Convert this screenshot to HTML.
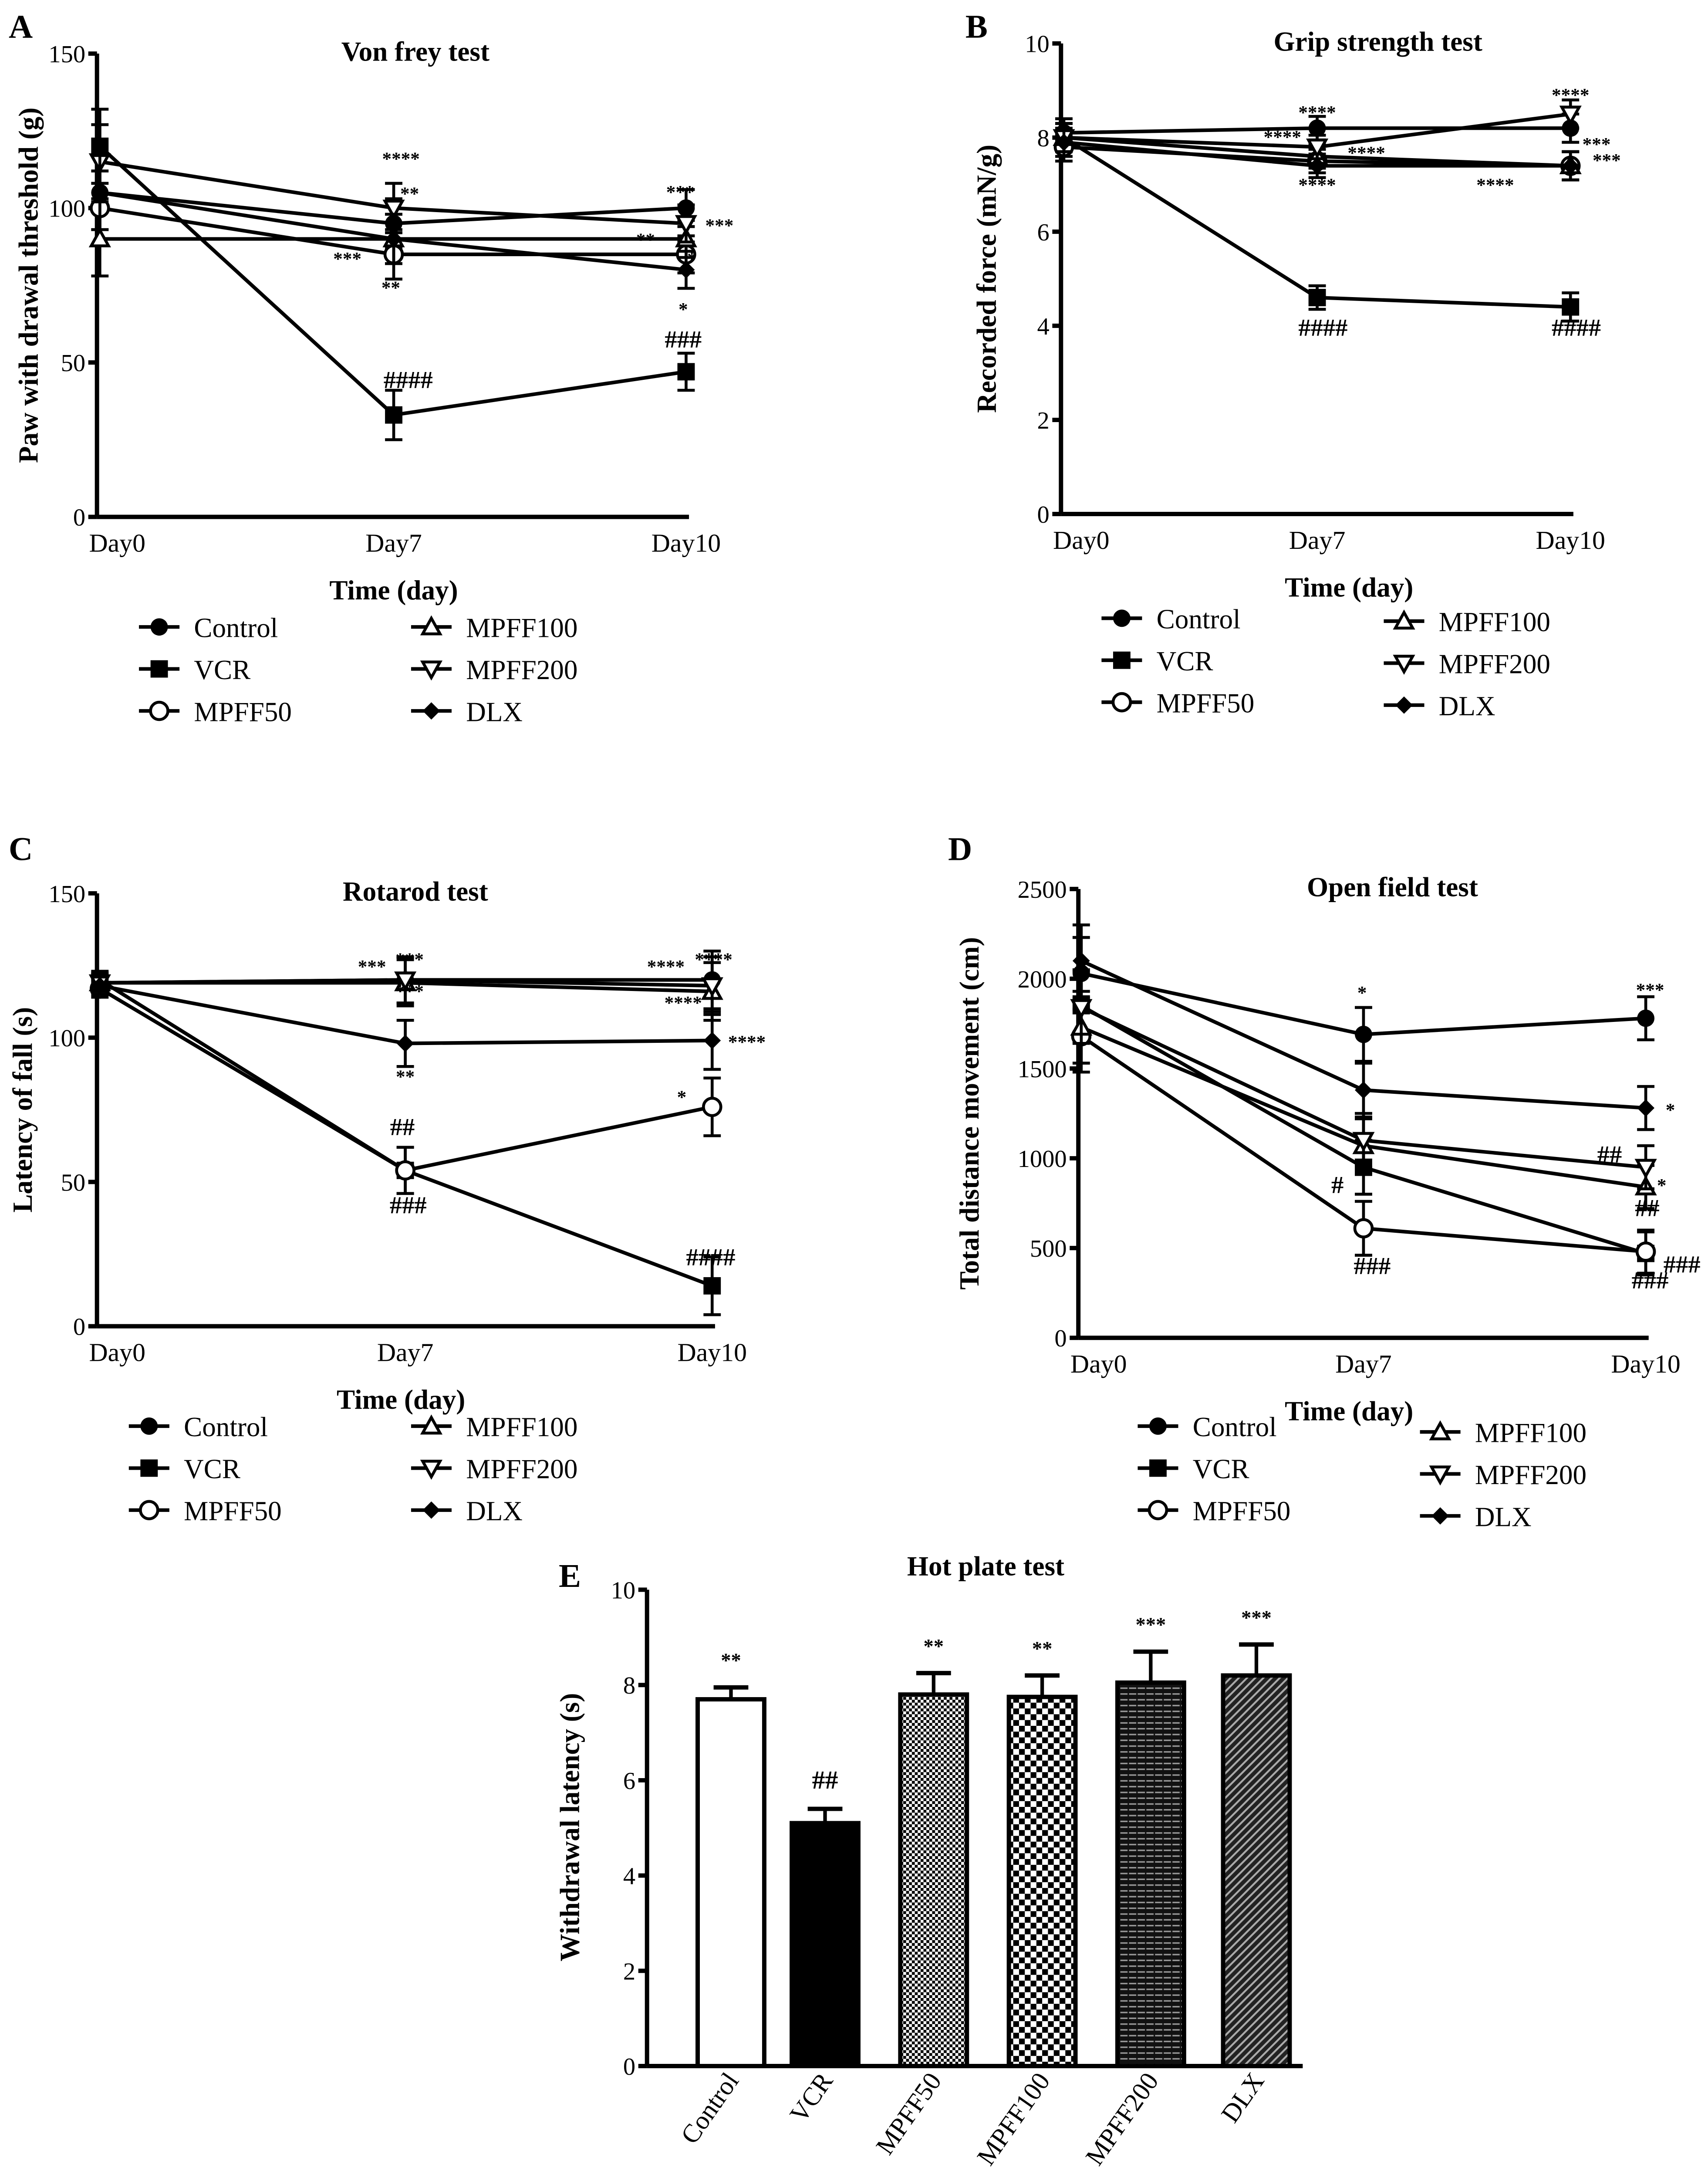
<!DOCTYPE html>
<html><head><meta charset="utf-8"><style>
html,body{margin:0;padding:0;background:#fff;width:3922px;height:5132px;overflow:hidden}
svg{display:block}
text{font-family:"Liberation Serif",serif;fill:#000}
</style></head><body>
<svg id="fig" width="3922" height="5132" viewBox="0 0 1180 1544" xmlns="http://www.w3.org/2000/svg">
<defs>
<pattern id="pDots" width="4" height="4" patternUnits="userSpaceOnUse"><rect width="4" height="4" fill="#fff"/><rect width="2" height="2" fill="#000"/><rect x="2" y="2" width="2" height="2" fill="#000"/></pattern>
<pattern id="pCheck" width="8" height="8" patternUnits="userSpaceOnUse"><rect width="8" height="8" fill="#fff"/><rect width="4" height="4" fill="#000"/><rect x="4" y="4" width="4" height="4" fill="#000"/></pattern>
<pattern id="pHoriz" width="6" height="4" patternUnits="userSpaceOnUse"><rect width="6" height="4" fill="#111"/><rect y="1.5" width="5" height="1" fill="#999"/></pattern>
<pattern id="pDiag" width="4" height="4" patternUnits="userSpaceOnUse" patternTransform="rotate(45)"><rect width="4" height="4" fill="#222"/><rect width="1.3" height="4" fill="#aaa"/></pattern>
</defs>
<g id="root"></g>
</svg>
<script>
const groups = ["Control","VCR","MPFF50","MPFF100","MPFF200","DLX"];
const days = ["Day0","Day7","Day10"];
// Panel A
const aControl=[105,95,100], aVCR=[120,33,47], aMPFF50=[100,85,85], aMPFF100=[90,90,90], aMPFF200=[115,100,95], aDLX=[105,90,80];
const aErr=[12,8,6];
const aTicks=[0,50,100,150];
// Panel B
const bControl=[8.1,8.2,8.2], bVCR=[8.0,4.6,4.4], bMPFF50=[7.8,7.5,7.4], bMPFF100=[8.0,7.6,7.4], bMPFF200=[8.0,7.8,8.5], bDLX=[7.9,7.4,7.4];
const bErr=[0.3,0.25,0.3];
const bTicks=[0,2,4,6,8,10];
// Panel C
const cControl=[119,120,120], cVCR=[120,54,14], cMPFF50=[117,54,76], cMPFF100=[119,119,116], cMPFF200=[119,120,118], cDLX=[118,98,99];
const cErr=[3,8,10];
const cTicks=[0,50,100,150];
// Panel D
const dControl=[2030,1690,1780], dVCR=[1850,950,470], dMPFF50=[1680,610,480], dMPFF100=[1730,1070,840], dMPFF200=[1840,1100,950], dDLX=[2100,1380,1280];
const dErr=[200,150,120];
const dTicks=[0,500,1000,1500,2000,2500];
// Panel E
const eValues=[7.7,5.1,7.8,7.75,8.05,8.2];
const eErr=[0.25,0.3,0.45,0.45,0.65,0.65];
const eTicks=[0,2,4,6,8,10];
const eSig=["**","##","**","**","***","***"];

const NS="http://www.w3.org/2000/svg";
const root=document.getElementById('root');
function el(tag,attrs,parent,txt){const e=document.createElementNS(NS,tag);for(const k in attrs)e.setAttribute(k,attrs[k]);if(txt!==undefined)e.textContent=txt;(parent||root).appendChild(e);return e;}

function marker(g,type,x,y,s){
  s=s||6;let m;
  if(type==="Control") m=el('circle',{cx:x,cy:y,r:s,fill:'#000'},g);
  else if(type==="VCR") m=el('rect',{x:x-s,y:y-s,width:2*s,height:2*s,fill:'#000'},g);
  else if(type==="MPFF50") m=el('circle',{cx:x,cy:y,r:s,fill:'#fff',stroke:'#000','stroke-width':2},g);
  else if(type==="MPFF100") m=el('polygon',{points:`${x},${y-s} ${x-s},${y+s*0.8} ${x+s},${y+s*0.8}`,fill:'#fff',stroke:'#000','stroke-width':2},g);
  else if(type==="MPFF200") m=el('polygon',{points:`${x},${y+s} ${x-s},${y-s*0.8} ${x+s},${y-s*0.8}`,fill:'#fff',stroke:'#000','stroke-width':2},g);
  else m=el('polygon',{points:`${x},${y-s} ${x+s},${y} ${x},${y+s} ${x-s},${y}`,fill:'#000'},g);
  return m;
}

function linePanel(cfg){
  const g=el('g',{});
  
  
  const yS=v=>cfg.y0-(v-cfg.ymin)/(cfg.ymax-cfg.ymin)*(cfg.y0-cfg.y1);
  const xS=i=>cfg.xs[i];
  const ax=el('g',{},g);
  
  
  el('line',{x1:cfg.ax,y1:cfg.y1,x2:cfg.ax,y2:cfg.y0,stroke:'#000','stroke-width':3},ax);
  el('line',{x1:cfg.ax,y1:cfg.y0,x2:cfg.xs[2]+2,y2:cfg.y0,stroke:'#000','stroke-width':3},ax);
  cfg.ticks.forEach(t=>{
    el('line',{x1:cfg.ax-6,y1:yS(t),x2:cfg.ax,y2:yS(t),stroke:'#000','stroke-width':3},ax);
    const tl=el('text',{x:cfg.ax-8,y:yS(t)+6,'font-size':17,'text-anchor':'end'},ax,t);
    
    
  });
  days.forEach((d,i)=>{
    const tl=el('text',{x:xS(i)+(i===0?12:0),y:cfg.y0+24,'font-size':18,'text-anchor':'middle'},ax,d);
    
    
  });
  const tt=el('text',{x:cfg.tx,y:cfg.y1+5,'font-size':19,'font-weight':'bold','text-anchor':'middle'},g,cfg.title);
  
  
  const lt=el('text',{x:cfg.lx,y:cfg.ly,'font-size':23,'font-weight':'bold'},g,cfg.letter);
  
  
  const yt=el('text',{x:0,y:0,'font-size':19,'font-weight':'bold','text-anchor':'middle',transform:`translate(${cfg.ytx},${(cfg.y0+cfg.y1)/2}) rotate(-90)`},g,cfg.ylabel);
  
  
  const xt=el('text',{x:cfg.xtx,y:cfg.y0+57,'font-size':19,'font-weight':'bold','text-anchor':'middle'},g,'Time (day)');
  
  
  groups.forEach((gr,k)=>{
    const vals=cfg.series[k];
    const sg=el('g',{},g);
    
    
    el('polyline',{points:vals.map((v,i)=>xS(i)+','+yS(v)).join(' '),fill:'none',stroke:'#000','stroke-width':2.5},sg);
    vals.forEach((v,i)=>{
      const e=cfg.err[i];
      el('line',{x1:xS(i),y1:yS(v+e),x2:xS(i),y2:yS(v-e),stroke:'#000','stroke-width':2},sg);
      el('line',{x1:xS(i)-6,y1:yS(v+e),x2:xS(i)+6,y2:yS(v+e),stroke:'#000','stroke-width':2},sg);
      el('line',{x1:xS(i)-6,y1:yS(v-e),x2:xS(i)+6,y2:yS(v-e),stroke:'#000','stroke-width':2},sg);
      const m=marker(sg,gr,xS(i),yS(v),6);
      
      
    });
  });
  cfg.ann.forEach(a=>{const t=el('text',{x:a[0],y:a[1],'font-size':a[2].includes('#')?17:13,'font-weight':'bold','text-anchor':'middle'},g,a[2]);
    });
  const lg=el('g',{},g);
  
  
  groups.forEach((gr,k)=>{
    const col=k<3?0:1,row=k%3;
    const x=cfg.legx[col],y=cfg.legy+row*29+(col?cfg.legdy:0);
    const le=el('g',{},lg);
    
    
    el('line',{x1:x-14,y1:y,x2:x+14,y2:y,stroke:'#000','stroke-width':2.5},le);
    marker(le,gr,x,y,6);
    el('text',{x:x+24,y:y+7,'font-size':19},le,gr);
  });
}

linePanel({name:'panel-a-von-frey',letter:'A',lx:6,ly:26,title:'Von frey test',tx:287,ylabel:'Paw with drawal threshold (g)',ytx:26,
  ax:67,y0:357,y1:37,ymin:0,ymax:150,xs:[69,272,474],ticks:aTicks,xtx:272,
  series:[aControl,aVCR,aMPFF50,aMPFF100,aMPFF200,aDLX],err:aErr,
  legx:[110,298],legy:433,legdy:0,
  ann:[[277,114,'****'],[283,138,'**'],[240,183,'***'],[270,203,'**'],[446,170,'**'],[470,137,'***'],[497,160,'***'],[478,183,'*'],[472,218,'*'],[472,240,'###'],[282,268,'####']]});
linePanel({name:'panel-b-grip-strength',letter:'B',lx:667,ly:26,title:'Grip strength test',tx:952,ylabel:'Recorded force (mN/g)',ytx:688,
  ax:733,y0:355,y1:30,ymin:0,ymax:10,xs:[735,910,1085],ticks:bTicks,xtx:932,
  series:[bControl,bVCR,bMPFF50,bMPFF100,bMPFF200,bDLX],err:bErr,
  legx:[775,970],legy:427,legdy:2,
  ann:[[910,82,'****'],[886,99,'****'],[944,110,'****'],[910,132,'****'],[1033,132,'****'],[1085,70,'****'],[1103,104,'***'],[1110,115,'***'],[914,232,'####'],[1089,232,'####']]});
linePanel({name:'panel-c-rotarod',letter:'C',lx:6,ly:594,title:'Rotarod test',tx:287,ylabel:'Latency of fall (s)',ytx:22,
  ax:67,y0:916,y1:617,ymin:0,ymax:150,xs:[69,280,492],ticks:cTicks,xtx:277,
  series:[cControl,cVCR,cMPFF50,cMPFF100,cMPFF200,cDLX],err:cErr,
  legx:[103,298],legy:985,legdy:0,
  ann:[[257,672,'***'],[283,667,'***'],[283,689,'***'],[280,748,'**'],[460,672,'****'],[493,667,'****'],[472,697,'****'],[516,724,'****'],[471,762,'*'],[278,784,'##'],[282,838,'###'],[491,874,'####']]});
linePanel({name:'panel-d-open-field',letter:'D',lx:655,ly:594,title:'Open field test',tx:962,ylabel:'Total distance movement (cm)',ytx:676,
  ax:745,y0:924,y1:614,ymin:0,ymax:2500,xs:[747,942,1137],ticks:dTicks,xtx:932,
  series:[dControl,dVCR,dMPFF50,dMPFF100,dMPFF200,dDLX],err:dErr,
  legx:[800,995],legy:985,legdy:4,
  ann:[[941,690,'*'],[1140,688,'***'],[1154,771,'*'],[1112,803,'##'],[1148,823,'*'],[1138,840,'##'],[924,824,'#'],[948,880,'###'],[1140,890,'###'],[1162,879,'###']]});

(function(){
  const g=el('g',{});
  
  
  const y0=1427,y1=1098,ax=447;
  const yS=v=>y0-v/10*(y0-y1);
  const xs=[505,570,645,720,795,868];
  const fills=['#fff','#000','url(#pDots)','url(#pCheck)','url(#pHoriz)','url(#pDiag)'];
  el('line',{x1:ax,y1:y1,x2:ax,y2:y0,stroke:'#000','stroke-width':3},g);
  el('line',{x1:ax,y1:y0,x2:900,y2:y0,stroke:'#000','stroke-width':3},g);
  eTicks.forEach(t=>{
    el('line',{x1:ax-6,y1:yS(t),x2:ax,y2:yS(t),stroke:'#000','stroke-width':3},g);
    const tl=el('text',{x:ax-8,y:yS(t)+6,'font-size':17,'text-anchor':'end'},g,t);
    
    
  });
  eValues.forEach((v,i)=>{
    const x=xs[i],w=46;
    const b=el('rect',{x:x-w/2,y:yS(v),width:w,height:y0-yS(v),fill:fills[i],stroke:'#000','stroke-width':3},g);
    
    
    const e=eErr[i];
    el('line',{x1:x,y1:yS(v),x2:x,y2:yS(v+e),stroke:'#000','stroke-width':2.5},g);
    el('line',{x1:x-12,y1:yS(v+e),x2:x+12,y2:yS(v+e),stroke:'#000','stroke-width':3},g);
    const s=el('text',{x:x,y:yS(v+e)-14,'font-size':eSig[i].includes('#')?18:14,'font-weight':'bold','text-anchor':'middle'},g,eSig[i]);
    
    
    const tl=el('text',{x:0,y:0,'font-size':18,'text-anchor':'end',transform:`translate(${x+6},${y0+10}) rotate(-55)`},g,groups[i]);
    
    
  });
  const t=el('text',{x:681,y:1088,'font-size':19,'font-weight':'bold','text-anchor':'middle'},g,'Hot plate test');
  
  const l=el('text',{x:386,y:1096,'font-size':23,'font-weight':'bold'},g,'E');
  
  const yt=el('text',{x:0,y:0,'font-size':19,'font-weight':'bold','text-anchor':'middle',transform:`translate(400,1262) rotate(-90)`},g,'Withdrawal latency (s)');
  
  const xt=el('text',{x:668,y:1526,'font-size':19,'font-weight':'bold','text-anchor':'middle'},g,'Groups');
  
})();
</script>
</body></html>
